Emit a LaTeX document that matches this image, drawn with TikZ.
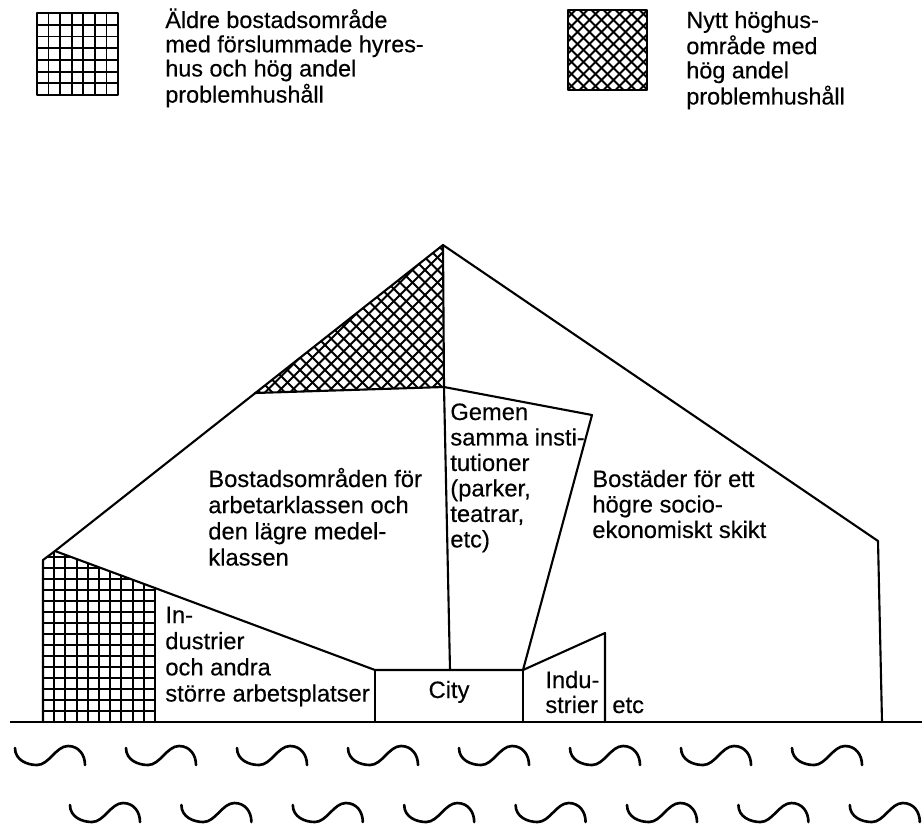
\documentclass[tikz,border=0pt]{standalone}
\usepackage{fontspec}
\setmainfont[FakeBold=0.35]{Liberation Sans}
\begin{document}
\begin{tikzpicture}[x=0.02cm,y=-0.02cm,
  outline/.style={line width=1.2pt, line join=round, line cap=round},
  hatchline/.style={line width=1.05pt},
  groundline/.style={line width=1.4pt},
  wavestyle/.style={line width=1.5pt, line cap=round},
  figtxt/.style={anchor=base west, inner sep=0pt, font=\fontsize{13.5}{14.9}\selectfont},
  legtxt/.style={anchor=base west, inner sep=0pt, font=\fontsize{13.3}{13.8}\selectfont}]
\useasboundingbox (0,0) rectangle (922,826);

% ---------- legend ----------
\foreach \i in {0,...,7} {
  \draw[hatchline] (37+81/7*\i,13) -- (37+81/7*\i,95);
  \draw[hatchline] (37,13+82/7*\i) -- (118,13+82/7*\i);
}
\draw[outline] (37,13) rectangle (118,95);
\node[legtxt] (legA) at (165,28) {\begin{tabular}[t]{@{}l@{}}Äldre bostadsområde\\med förslummade hyres-\\hus och hög andel\\problemhushåll\end{tabular}};

\begin{scope}
  \clip (568,10) rectangle (647,90);
  \foreach \k in {-10,...,10} {
    \draw[hatchline] (507.5+12*\k,-50) -- ++(200,200);
    \draw[hatchline] (507.5+12*\k,150) -- ++(200,-200);
  }
\end{scope}
\draw[outline] (568,10) rectangle (647,90);
\node[legtxt] (legB) at (686,28) {\begin{tabular}[t]{@{}l@{}}Nytt höghus-\\område med\\hög andel\\problemhushåll\end{tabular}};

% ---------- main figure ----------
\coordinate (A) at (443,245);
\coordinate (HL) at (255,393);
\coordinate (HR) at (444,387);
\coordinate (GL) at (55,551);
\coordinate (WL) at (43,560);
\coordinate (WLb) at (43,722);
\coordinate (GR) at (155,588);
\coordinate (GRb) at (155,722);
\coordinate (CL) at (375,670);
\coordinate (CLb) at (375,722);
\coordinate (CM) at (450,670);
\coordinate (CR) at (523,670);
\coordinate (CRb) at (523,722);
\coordinate (GT) at (592,415);
\coordinate (IT) at (605,633);
\coordinate (ITb) at (605,722);
\coordinate (RR) at (878,541);
\coordinate (RRb) at (882,722);
\coordinate (G0) at (10,722);
\coordinate (G1) at (922,722);

% cross hatching (new high-rise area)
\begin{scope}
  \clip (A) -- (HL) -- (HR) -- cycle;
  \foreach \k in {-15,...,15} {
    \draw[hatchline] (150+12.5*\k,120) -- ++(400,400);
    \draw[hatchline] (150+12.5*\k,520) -- ++(400,-400);
  }
\end{scope}

% grid (older area)
\begin{scope}
  \clip (WLb) -- (WL) -- (GL) -- (GR) -- (GRb) -- cycle;
  \foreach \i in {0,...,10} \draw[hatchline] (43+11.2*\i,530) -- (43+11.2*\i,722);
  \foreach \j in {0,...,17} \draw[hatchline] (40,722-11*\j) -- (160,722-11*\j);
\end{scope}

% outlines
\draw[outline] (WLb) -- (WL) -- (GL) -- (A) -- (RR) -- (RRb);
\draw[outline] (HL) -- (HR);
\draw[outline] (A) -- (HR) -- (CM);
\draw[outline] (HR) -- (GT) -- (CR);
\draw[outline] (GL) -- (GR) -- (CL) -- (CR) -- (IT) -- (ITb);
\draw[outline] (GR) -- (GRb);
\draw[outline] (CL) -- (CLb);
\draw[outline] (CR) -- (CRb);
\draw[groundline] (G0) -- (G1);

% texts
\node[figtxt] (tBost) at (208,487) {\begin{tabular}[t]{@{}l@{}}Bostadsområden för\\arbetarklassen och\\den lägre medel-\\klassen\end{tabular}};
\node[figtxt, font=\fontsize{13.5}{14.5}\selectfont] (tGem) at (450,420) {\begin{tabular}[t]{@{}l@{}}Gemen\\samma insti-\\tutioner\\(parker,\\teatrar,\\etc)\end{tabular}};
\node[figtxt, font=\fontsize{13.5}{14.5}\selectfont] (tHog) at (592,487) {\begin{tabular}[t]{@{}l@{}}Bostäder för ett\\högre socio-\\ekonomiskt skikt\end{tabular}};
\node[figtxt] (tInd) at (165,623) {\begin{tabular}[t]{@{}l@{}}In-\\dustrier\\och andra\\större arbetsplatser\end{tabular}};
\node[figtxt, anchor=base] (tCity) at (449,698) {City};
\node[figtxt, font=\fontsize{13.5}{14.2}\selectfont] (tIndu) at (545,688) {\begin{tabular}[t]{@{}l@{}}Indu-\\strier\end{tabular}};
\node[figtxt] (tEtc) at (612,713) {etc};

% waves
\foreach \k in {0,...,7} {
  \begin{scope}[shift={(15+111*\k,746)}]
    \draw[wavestyle] (0,2) .. controls (0,14) and (12,19) .. (22,19) .. controls (34,19) and (41,0) .. (53,0) .. controls (64,0) and (70,9) .. (70,19);
  \end{scope}
  \begin{scope}[shift={(70+111.4*\k,803)}]
    \draw[wavestyle] (0,2) .. controls (0,14) and (12,19) .. (22,19) .. controls (34,19) and (41,0) .. (53,0) .. controls (64,0) and (70,9) .. (70,19);
  \end{scope}
}
\end{tikzpicture}
\end{document}
